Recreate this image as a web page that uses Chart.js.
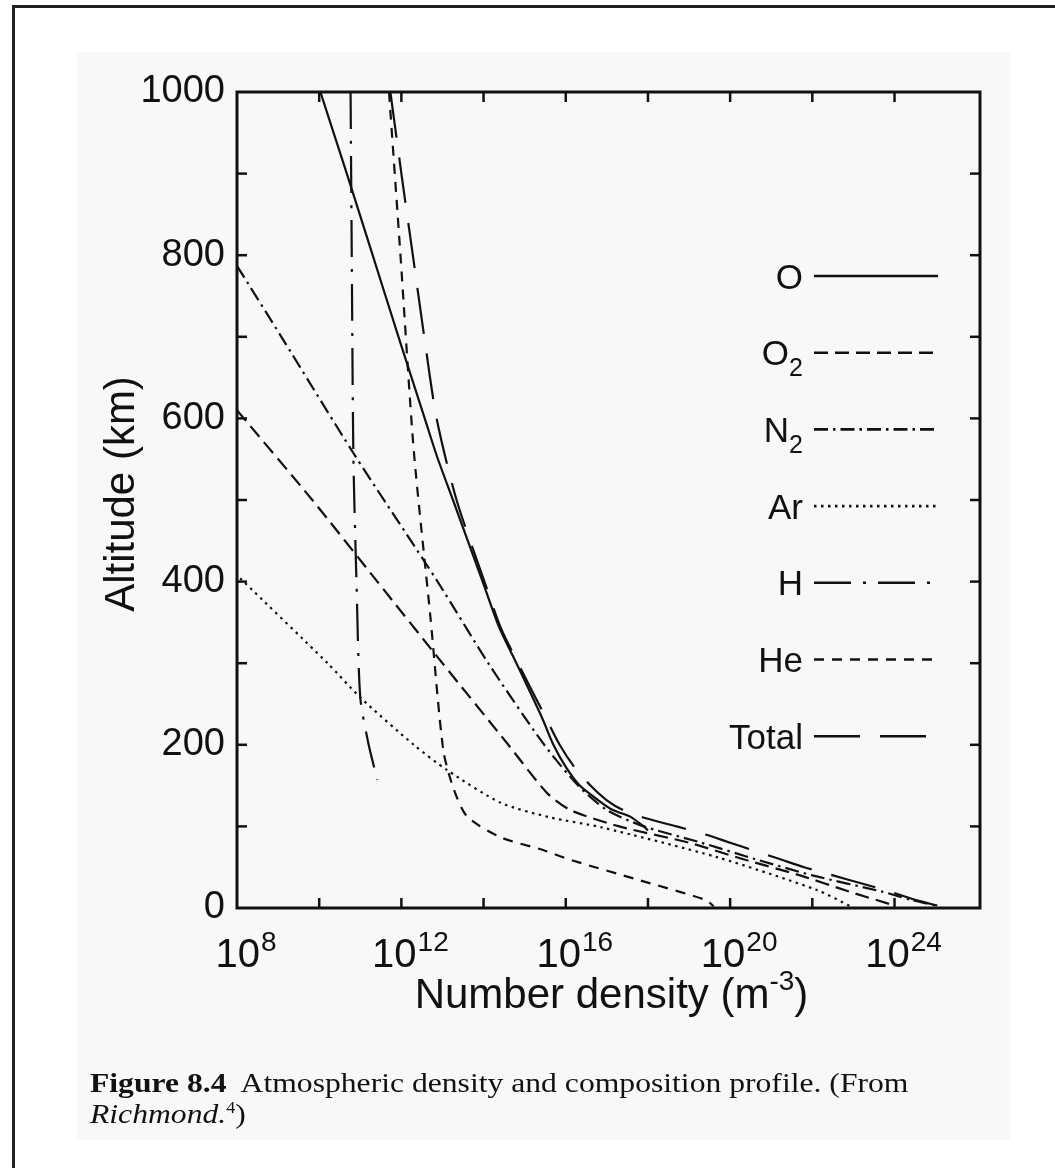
<!DOCTYPE html>
<html>
<head>
<meta charset="utf-8">
<title>Atmospheric density and composition profile</title>
<script src="https://cdn.jsdelivr.net/npm/chart.js@4.4.1/dist/chart.umd.min.js"></script>
<style>
  html, body { margin: 0; padding: 0; background: #fff; }
  #page { position: relative; width: 1055px; height: 1168px; overflow: hidden; background: #fff; }
  #tint { position: absolute; left: 77px; top: 52px; width: 933px; height: 1088px; background: #f8f8f8; }
  #edge { position: absolute; left: 12px; top: 5px; width: 1200px; height: 1300px;
          border-top: 3px solid #222; border-left: 3px solid #222; }
  #chartBox { position: absolute; left: 0; top: 0; width: 1055px; height: 1168px; }
  .cap { position: absolute; left: 90px; font-family: "Liberation Serif", "Times New Roman", serif;
         font-size: 28px; line-height: 28px; color: #111; white-space: nowrap;
         transform: scaleX(1.13); transform-origin: 0 0; }
  .cap sup { font-size: 16px; vertical-align: 10px; line-height: 0; }
</style>
</head>
<body>
<div id="page">
  <div id="tint"></div>
  <div id="edge"></div>
  <div id="chartBox"><canvas id="chart"></canvas></div>
  <div class="cap" style="top:1069px"><b>Figure 8.4</b>&nbsp; Atmospheric density and composition profile. (From</div>
  <div class="cap" style="top:1100px"><i>Richmond.</i><sup>4</sup>)</div>
</div>
<script>
// Number density profiles, altitude in km, density in m^-3
const altO      = [1000, 900, 800, 700, 600, 553, 500, 400, 344, 300, 234, 200, 173, 150, 132, 120, 112, 100, 95];
const densO     = [1.07e10, 4.7e10, 2.0e11, 8.5e11, 3.7e12, 7.4e12, 1.8e13, 9.5e13, 2.4e14, 6.3e14, 2.6e15, 5.0e15, 1.0e16, 2.2e16, 6.2e16, 1.4e17, 3.7e17, 7.9e17, 1.0e18];

const altO2     = [610, 500, 400, 300, 200, 141, 120, 100, 80, 60, 40, 20, 3];
const densO2    = [1.0e8, 6.8e9, 2.6e11, 1.0e13, 4.0e14, 3.5e15, 1.3e16, 2.0e17, 1.0e19, 2.0e20, 5.0e21, 8.0e22, 1.0e24];

const altN2     = [787, 700, 557, 400, 300, 202, 150, 120, 100, 80, 60, 40, 20, 10, 3];
const densN2    = [1.0e8, 1.2e9, 6.9e10, 7.6e12, 1.3e14, 2.8e15, 2.0e16, 1.0e17, 8.0e17, 2.0e19, 4.0e20, 1.0e22, 5.0e23, 2.5e24, 1.0e25];

const altAr     = [404, 300, 258, 200, 169, 129, 111, 99, 62, 22, 1];
const densAr    = [1.2e8, 1.6e10, 1.0e11, 2.0e12, 1.3e13, 2.6e14, 4.2e15, 7.2e16, 5.0e19, 1.3e22, 9.3e22];

const altH      = [1000, 800, 552, 398, 258, 200, 157];
const densH     = [5.8e10, 6.2e10, 6.8e10, 8.1e10, 1.0e11, 1.6e11, 2.6e11];

const altHe     = [1000, 800, 561, 356, 193, 145, 112, 87, 71, 59, 34, 10, 2];
const densHe    = [5.0e11, 9.5e11, 2.0e12, 5.1e12, 1.05e13, 1.9e13, 4.0e13, 2.5e14, 2.8e15, 1.3e16, 6.3e17, 2.5e19, 4.0e19];

const altTotal  = [1000, 900, 800, 700, 600, 500, 400, 344, 300, 234, 200, 173, 150, 132, 120, 110, 100, 90, 80, 70, 60, 50, 40, 30, 20, 10, 3];
const densTotal = [5.4e11, 1.0e12, 1.9e12, 3.6e12, 7.2e12, 2.2e13, 1.05e14, 2.6e14, 6.9e14, 3.2e15, 7.1e15, 1.6e16, 4.0e16, 1.0e17, 2.5e17, 8.9e17, 5.0e18, 2.5e19, 1.0e20, 4.0e20, 1.6e21, 6.3e21, 3.2e22, 1.6e23, 7.9e23, 3.2e24, 1.1e25];

const speciesLabels  = ['O', 'O\u2082', 'N\u2082', 'Ar', 'H', 'He', 'Total'];
const xTickExponents = [8, 12, 16, 20, 24];
const yTickLabels    = [0, 200, 400, 600, 800, 1000];

const xMin = 1e8, xMax = Math.pow(10, 26.08);
const INK = '#111';
const SANS = '"Liberation Sans", Arial, Helvetica, sans-serif';

function pts(alt, dens) { return alt.map((a, i) => ({ x: dens[i], y: a })); }

const lineStyles = [
  [],                 // O
  [14, 7],            // O2
  [14, 5, 2.5, 5],    // N2
  [2.5, 4.5],         // Ar
  [37, 12, 3, 12],    // H
  [10, 8],            // He
  [46, 20]            // Total
];
const series = [
  pts(altO, densO), pts(altO2, densO2), pts(altN2, densN2), pts(altAr, densAr),
  pts(altH, densH), pts(altHe, densHe), pts(altTotal, densTotal)
];

const datasets = series.map((d, i) => ({
  label: speciesLabels[i],
  data: d,
  borderColor: INK,
  borderWidth: 2.2,
  borderDash: lineStyles[i],
  pointRadius: 0,
  fill: false,
  tension: 0.25
}));

function seg(ctx, x1, y1, x2, y2) { ctx.beginPath(); ctx.moveTo(x1, y1); ctx.lineTo(x2, y2); ctx.stroke(); }

// Text with a raised (sup) or lowered (sub) trailing part
function drawParts(ctx, parts, x, baseY) {
  let cx = x;
  parts.forEach(p => {
    ctx.font = p.size + 'px ' + SANS;
    ctx.fillText(p.t, cx, baseY + (p.dy || 0));
    cx += ctx.measureText(p.t).width + (p.gap || 0);
  });
}
function partsWidth(ctx, parts) {
  let w = 0;
  parts.forEach(p => { ctx.font = p.size + 'px ' + SANS; w += ctx.measureText(p.t).width + (p.gap || 0); });
  return w;
}

const frameAndText = {
  id: 'frameAndText',
  afterDraw(chart) {
    const { ctx, chartArea: a, scales: { x, y } } = chart;
    ctx.save();
    ctx.strokeStyle = INK;
    ctx.fillStyle = INK;

    // plot frame
    ctx.lineWidth = 3;
    ctx.strokeRect(a.left, a.top, a.right - a.left, a.bottom - a.top);

    // inward tick marks on all four sides
    ctx.lineWidth = 2.5;
    const tl = 10;
    y.ticks.forEach(t => {
      const py = y.getPixelForValue(t.value);
      if (py <= a.top + 2 || py >= a.bottom - 2) return;
      seg(ctx, a.left, py, a.left + tl, py);
      seg(ctx, a.right, py, a.right - tl, py);
    });
    x.ticks.forEach(t => {
      const px = x.getPixelForValue(t.value);
      if (px <= a.left + 2 || px >= a.right - 2) return;
      seg(ctx, px, a.bottom, px, a.bottom - tl);
      seg(ctx, px, a.top, px, a.top + tl);
    });

    // x tick labels: 10 with exponent
    ctx.textAlign = 'left';
    ctx.textBaseline = 'alphabetic';
    xTickExponents.forEach(e => {
      const px = x.getPixelForValue(Math.pow(10, e));
      const parts = [{ t: '10', size: 40, gap: 1 }, { t: String(e), size: 28, dy: -16 }];
      const w = partsWidth(ctx, parts);
      drawParts(ctx, parts, px + 9 - w / 2, a.bottom + 59);
    });

    // x axis title
    const xt = [
      { t: 'Number density (m', size: 42 },
      { t: '-3', size: 28, dy: -18 },
      { t: ')', size: 42 }
    ];
    const xtw = partsWidth(ctx, xt);
    drawParts(ctx, xt, (a.left + a.right) / 2 + 3 - xtw / 2, a.bottom + 100);

    // y axis title
    ctx.save();
    ctx.translate(134, (a.top + a.bottom) / 2 - 6);
    ctx.rotate(-Math.PI / 2);
    ctx.font = '42px ' + SANS;
    ctx.textAlign = 'center';
    ctx.fillText('Altitude (km)', 0, 0);
    ctx.restore();

    // legend: label, then line sample
    const textRight = 803, lineL = 814, lineR = 938, row0 = 276, rowStep = 76.7;
    chart.data.datasets.forEach((ds, i) => {
      const ly = row0 + i * rowStep;
      const m = ds.label.match(/^(.*?)([\u2080-\u2089])$/);
      let parts;
      if (m) {
        parts = [{ t: m[1], size: 35 }, { t: String(m[2].charCodeAt(0) - 0x2080), size: 25, dy: 11 }];
      } else {
        parts = [{ t: ds.label, size: 35 }];
      }
      const w = partsWidth(ctx, parts);
      ctx.textAlign = 'left';
      drawParts(ctx, parts, textRight - w, ly + 12.5);
      ctx.save();
      ctx.lineWidth = 2.6;
      ctx.setLineDash(ds.borderDash || []);
      seg(ctx, lineL, ly, lineR, ly);
      ctx.restore();
    });

    ctx.restore();
  }
};

new Chart(document.getElementById('chart'), {
  type: 'line',
  data: { datasets },
  options: {
    responsive: true,
    maintainAspectRatio: false,
    animation: false,
    events: [],
    layout: { padding: { left: 0, right: 75, top: 92, bottom: 0 } },
    plugins: { legend: { display: false }, tooltip: { enabled: false }, title: { display: false } },
    scales: {
      x: {
        type: 'logarithmic',
        min: xMin,
        max: xMax,
        grid: { display: false },
        border: { display: false },
        ticks: { display: false },
        afterBuildTicks(scale) {
          const t = [];
          for (let e = 8; e <= 24; e += 2) t.push({ value: Math.pow(10, e) });
          scale.ticks = t;
        },
        afterFit(scale) { scale.height = 260; }
      },
      y: {
        type: 'linear',
        min: 0,
        max: 1000,
        grid: { display: false, drawTicks: false },
        border: { display: false },
        ticks: {
          stepSize: 100,
          padding: 12,
          color: INK,
          font: { family: SANS, size: 38 },
          callback: v => (yTickLabels.includes(v) ? String(v) : '')
        },
        afterFit(scale) { scale.width = 237; }
      }
    }
  },
  plugins: [frameAndText]
});
</script>
</body>
</html>
